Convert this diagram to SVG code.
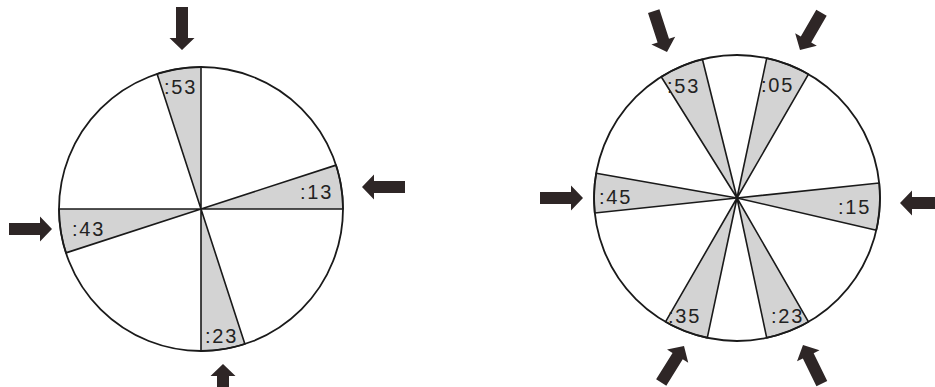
<svg xmlns="http://www.w3.org/2000/svg" xmlns:xlink="http://www.w3.org/1999/xlink" width="935" height="387" viewBox="0 0 935 387">
<style>
.wedge{fill:#d3d3d3;stroke:#1a1a1a;stroke-width:1.6;stroke-linejoin:round}
.rim{fill:none;stroke:#1a1a1a;stroke-width:1.8}
.lbl{font-family:"Liberation Sans",Arial,sans-serif;font-size:20px;letter-spacing:1.8px;fill:#222222}
.arrow{fill:#2e2626}
</style>
<defs>
<path id="arr" d="M0,0 L-12,-12.5 L-12,-6 L-43,-6 L-43,6 L-12,6 L-12,12.5 Z"/>
</defs>
<rect width="935" height="387" fill="#ffffff"/>

<g id="clock-left">
  <circle cx="201" cy="209" r="142" fill="#ffffff"/>
  <g id="left-53"><path class="wedge" d="M201,209 L157.12,73.95 A142,142 0 0 1 201,67 Z"/><text class="lbl" x="164" y="94">:53</text></g>
  <g id="left-13"><path class="wedge" d="M201,209 L336.05,165.12 A142,142 0 0 1 343,209 Z"/><text class="lbl" x="300" y="199">:13</text></g>
  <g id="left-23"><path class="wedge" d="M201,209 L244.88,344.05 A142,142 0 0 1 201,351 Z"/><text class="lbl" x="205" y="343">:23</text></g>
  <g id="left-43"><path class="wedge" d="M201,209 L65.95,252.88 A142,142 0 0 1 59,209 Z"/><text class="lbl" x="72" y="236">:43</text></g>
  <circle class="rim" cx="201" cy="209" r="142"/>
</g>

<g id="clock-right">
  <circle cx="737" cy="198" r="143" fill="#ffffff"/>
  <g id="right-53"><path class="wedge" d="M737,198 L661.22,76.73 A143,143 0 0 1 702.41,59.25 Z"/><text class="lbl" x="667" y="93">:53</text></g>
  <g id="right-05"><path class="wedge" d="M737,198 L766.73,58.13 A143,143 0 0 1 808.5,74.16 Z"/><text class="lbl" x="761" y="92">:05</text></g>
  <g id="right-15"><path class="wedge" d="M737,198 L879.22,183.05 A143,143 0 0 1 876.34,230.17 Z"/><text class="lbl" x="838" y="214">:15</text></g>
  <g id="right-23"><path class="wedge" d="M737,198 L808.5,321.84 A143,143 0 0 1 766.73,337.87 Z"/><text class="lbl" x="771" y="323">:23</text></g>
  <g id="right-35"><path class="wedge" d="M737,198 L707.27,337.87 A143,143 0 0 1 665.5,321.84 Z"/><text class="lbl" x="668" y="323">:35</text></g>
  <g id="right-45"><path class="wedge" d="M737,198 L594.78,212.95 A143,143 0 0 1 596.17,173.17 Z"/><text class="lbl" x="599" y="204">:45</text></g>
  <circle class="rim" cx="737" cy="198" r="143"/>
</g>

<g id="connectors" class="arrow">
  <use xlink:href="#arr" transform="translate(182,50) rotate(90)"/>
  <use xlink:href="#arr" transform="translate(362,187) rotate(180)"/>
  <use xlink:href="#arr" transform="translate(52,229)"/>
  <use xlink:href="#arr" transform="translate(223,364) rotate(-90)"/>
  <use xlink:href="#arr" transform="translate(667,52) rotate(72)"/>
  <use xlink:href="#arr" transform="translate(800,50) rotate(120)"/>
  <use xlink:href="#arr" transform="translate(583,198)"/>
  <use xlink:href="#arr" transform="translate(900,203) rotate(180)"/>
  <use xlink:href="#arr" transform="translate(684,346) rotate(-58)"/>
  <use xlink:href="#arr" transform="translate(803,345) rotate(-116)"/>
</g>
</svg>
